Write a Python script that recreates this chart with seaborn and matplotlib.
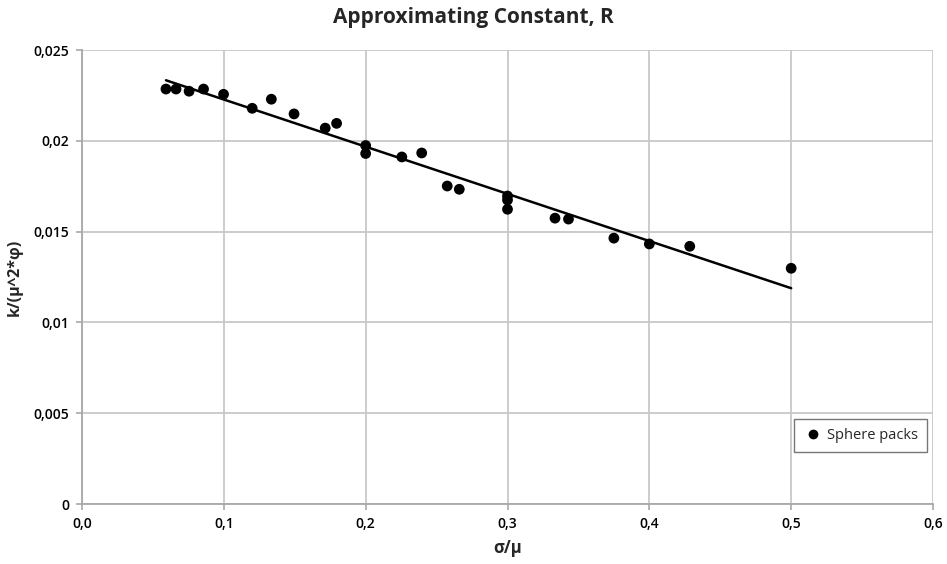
import numpy as np
import pandas as pd
import matplotlib
matplotlib.use("Agg")
import matplotlib.pyplot as plt
import seaborn as sns
from matplotlib.ticker import FuncFormatter
from matplotlib.lines import Line2D

# data
sigma_mu = [0.0592, 0.0663, 0.0755, 0.0857, 0.0998, 0.120, 0.1335, 0.1495,
            0.1715, 0.1795, 0.200, 0.200, 0.2255, 0.2395, 0.2575, 0.266,
            0.300, 0.300, 0.300, 0.3335, 0.343, 0.375, 0.400, 0.4285, 0.500]
k_ratio = [0.02285, 0.02285, 0.02273, 0.02285, 0.02256, 0.02179, 0.02229, 0.02148,
           0.02070, 0.02096, 0.01974, 0.01930, 0.01911, 0.01933, 0.01751, 0.01733,
           0.01696, 0.01674, 0.01623, 0.01574, 0.01569, 0.01464, 0.01432, 0.01419, 0.01298]
x_ticks = [0.0, 0.1, 0.2, 0.3, 0.4, 0.5, 0.6]
y_ticks = [0, 0.005, 0.01, 0.015, 0.02, 0.025]

df = pd.DataFrame({"x": sigma_mu, "y": k_ratio})

sns.set_theme(style="white")
plt.rcParams["font.family"] = ["Open Sans", "DejaVu Sans"]

fig = plt.figure(figsize=(9.47, 5.64), dpi=100)
ax = fig.add_axes([82/947, 1-504/564, (933-82)/947, (504-50)/564])

grid_c = "#c8c8c8"
ax.set_xlim(0, 0.6)
ax.set_ylim(0, 0.025)
ax.set_xticks(x_ticks)
ax.set_yticks(y_ticks)
ax.grid(True, color=grid_c, linewidth=1.3)
ax.set_axisbelow(True)

sns.regplot(data=df, x="x", y="y", ax=ax, ci=None, truncate=True,
            scatter_kws=dict(s=60, color="black", edgecolor="none", alpha=1, zorder=3),
            line_kws=dict(color="black", linewidth=1.8, zorder=4))

h = Line2D([], [], marker="o", color="black", linestyle="none", markersize=6)
leg = ax.legend([h], ["Sphere packs"], loc="lower right",
                bbox_to_anchor=(0.993, 0.115), frameon=True, fancybox=False,
                fontsize=10.5, handletextpad=0.3, borderpad=0.6, handlelength=1.4,
                borderaxespad=0)
leg.get_frame().set_edgecolor("#555555")
leg.get_frame().set_linewidth(1.0)

for s in ["top", "right"]:
    ax.spines[s].set_visible(False)
for s in ["left", "bottom"]:
    ax.spines[s].set_color("#a8a8a8")
    ax.spines[s].set_linewidth(1.3)

ax.tick_params(axis="both", which="both", length=4, width=1.2, color="#a8a8a8",
               labelsize=10, labelcolor="black", direction="out", pad=5)
ax.tick_params(bottom=True, left=True)

def fmt_y(v, pos):
    if abs(v) < 1e-12:
        return "0"
    s = ("%.3f" % v).rstrip("0")
    return s.replace(".", ",")

ax.xaxis.set_major_formatter(FuncFormatter(lambda v, p: ("%.1f" % v).replace(".", ",")))
ax.yaxis.set_major_formatter(FuncFormatter(fmt_y))
for lab in ax.get_xticklabels() + ax.get_yticklabels():
    lab.set_fontweight("semibold")

ax.set_xlabel("σ/µ", fontsize=12, fontweight="bold", labelpad=6)
ax.set_ylabel("k/(µ^2*φ)", fontsize=11.5, fontweight="bold", labelpad=8)
fig.text(0.5, 1-17/564, "Approximating Constant, R", ha="center", va="center",
         fontsize=15, fontweight="bold")

fig.savefig("out.png", dpi=100)
